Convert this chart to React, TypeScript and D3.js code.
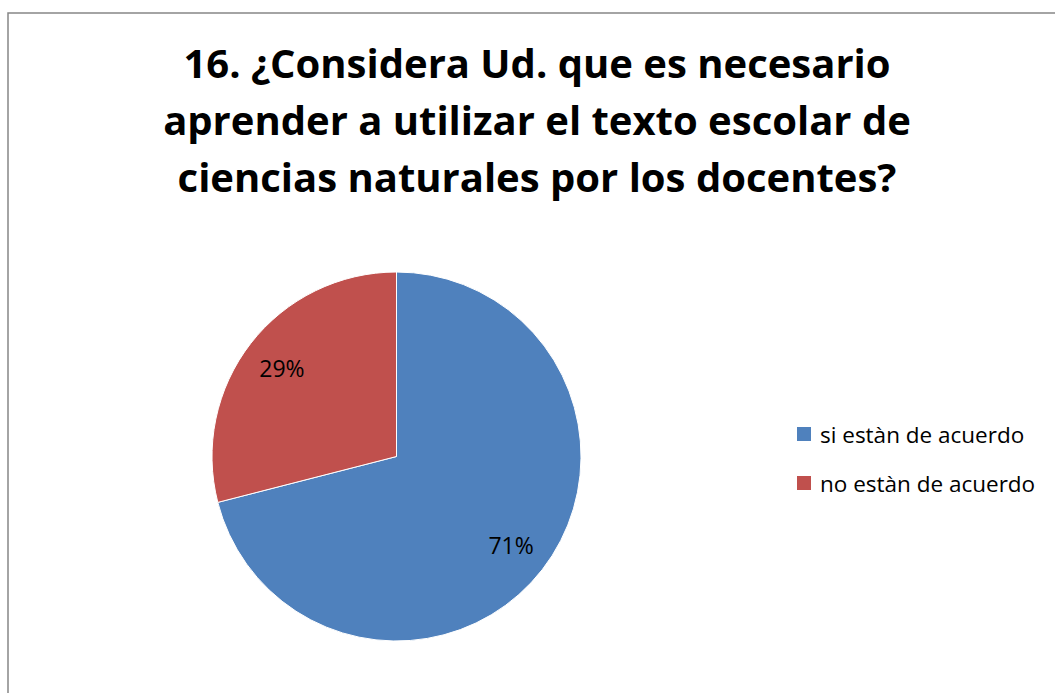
import React from "react";
import * as d3 from "d3";

const titleLines = [
  "16. ¿Considera Ud. que es necesario",
  "aprender a utilizar el texto escolar de",
  "ciencias naturales por los docentes?",
];
const categories = ["si estàn de acuerdo", "no estàn de acuerdo"];
const values = [71, 29];
const colors = ["#4F81BD", "#C0504D"];

const W = 1055;
const H = 693;
const FONT = "'Open Sans', 'Noto Sans', sans-serif";

export default function App() {
  const cx = 396.5;
  const cy = 456.5;
  const r = 184.5;
  const pie = d3.pie<number>().sort(null).value((d) => d)(values);
  const arc = d3.arc<d3.PieArcDatum<number>>().innerRadius(0).outerRadius(r);
  const labelArc = d3.arc<d3.PieArcDatum<number>>().innerRadius(145).outerRadius(145);
  const total = d3.sum(values);

  return (
    <svg
      width={W}
      height={H}
      style={{ position: "absolute", left: 0, top: 0, background: "#fff" }}
    >
      <rect x={8} y={13} width={1080} height={700} fill="#fff" stroke="#868686" strokeWidth={1.5} />
      <g fontFamily={FONT} fontWeight="bold" fontSize={40} textAnchor="middle" fill="#000">
        {titleLines.map((t, i) => (
          <text key={i} x={537} y={78 + i * 57}>
            {t}
          </text>
        ))}
      </g>
      <g transform={`translate(${cx},${cy})`}>
        {pie.map((p, i) => (
          <path key={i} d={arc(p) || ""} fill={colors[i]} stroke="#fff" strokeWidth={1} />
        ))}
        {pie.map((p, i) => {
          const [x, y] = labelArc.centroid(p);
          return (
            <text
              key={"l" + i}
              x={x}
              y={y}
              textAnchor="middle"
              dominantBaseline="central"
              fontFamily={FONT}
              fontSize={23}
              fill="#000"
            >
              {Math.round((values[i] / total) * 100)}%
            </text>
          );
        })}
      </g>
      <g fontFamily={FONT} fontSize={22.5} fill="#000">
        {categories.map((c, i) => (
          <g key={c} transform={`translate(797,${427 + i * 49})`}>
            <rect x={0} y={0} width={14} height={14} fill={colors[i]} />
            <text x={23} y={7} dominantBaseline="central">
              {c}
            </text>
          </g>
        ))}
      </g>
    </svg>
  );
}
